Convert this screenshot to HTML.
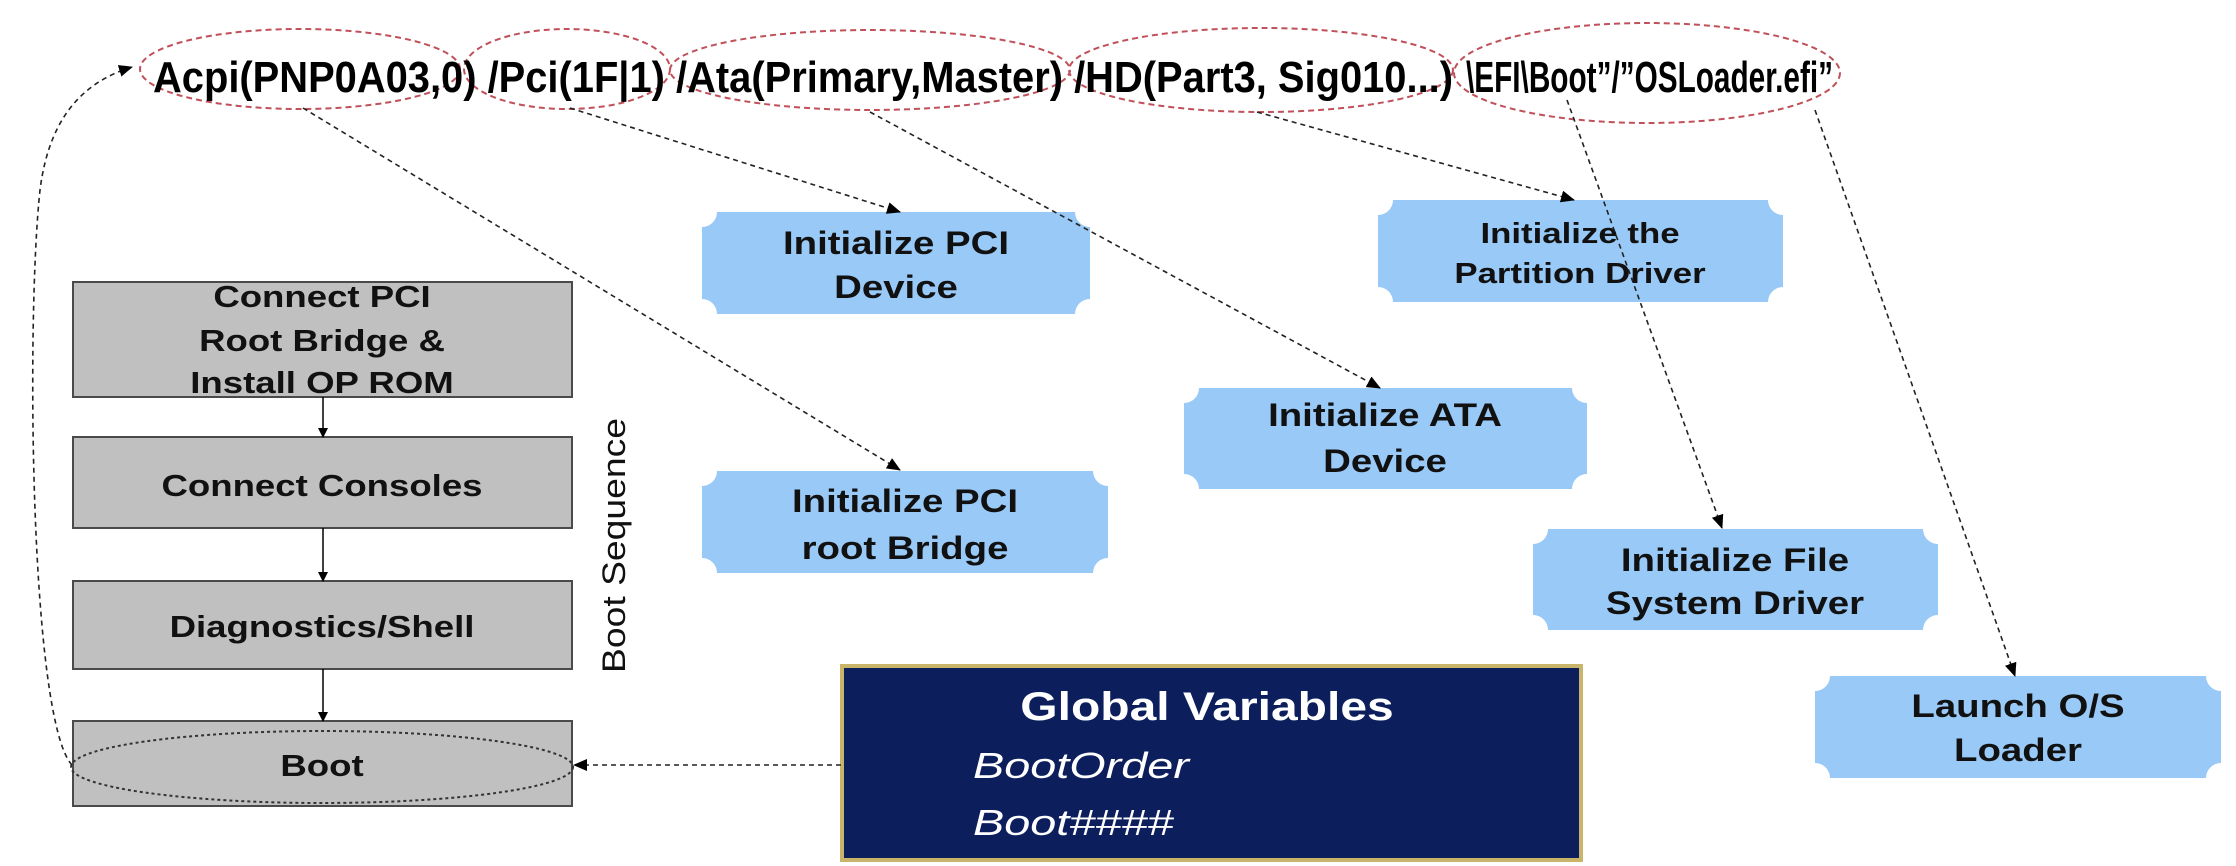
<!DOCTYPE html>
<html><head><meta charset="utf-8"><style>
html,body{margin:0;padding:0;background:#fff;}
svg{display:block;}
text{font-family:"Liberation Sans",Arial,sans-serif;}
</style></head><body>
<svg width="2236" height="866" viewBox="0 0 2236 866" xmlns="http://www.w3.org/2000/svg">
<defs>
<marker id="ah" markerWidth="10" markerHeight="10" refX="9" refY="5" orient="auto" markerUnits="userSpaceOnUse">
<path d="M0,0 L10,5 L0,10 z" fill="#000"/>
</marker>
<marker id="ah2" markerWidth="14" markerHeight="12" refX="13" refY="6" orient="auto" markerUnits="userSpaceOnUse">
<path d="M0,0 L14,6 L0,12 z" fill="#000"/>
</marker>
</defs>

<g fill="none" stroke="#c0505a" stroke-width="2" stroke-dasharray="6,4">
<ellipse cx="300" cy="69" rx="160" ry="40"/>
<ellipse cx="567" cy="69" rx="103" ry="40"/>
<ellipse cx="870" cy="70" rx="200" ry="40"/>
<ellipse cx="1261" cy="70" rx="192" ry="42"/>
<ellipse cx="1647" cy="73" rx="193" ry="50"/>
</g>

<text x="153" y="92" font-size="44" font-weight="bold" textLength="1300" lengthAdjust="spacingAndGlyphs">Acpi(PNP0A03,0) /Pci(1F|1) /Ata(Primary,Master) /HD(Part3, Sig010...)</text>
<text x="1466" y="92" font-size="44" font-weight="bold" textLength="367" lengthAdjust="spacingAndGlyphs">\EFI\Boot”/”OSLoader.efi”</text>

<g fill="#c0c0c0" stroke="#4a4a4a" stroke-width="2">
<rect x="73" y="282" width="499" height="115"/>
<rect x="73" y="437" width="499" height="91"/>
<rect x="73" y="581" width="499" height="88"/>
<rect x="73" y="721" width="499" height="85"/>
</g>
<g font-size="31" font-weight="bold" text-anchor="middle" fill="#111">
<text transform="translate(322,307) scale(1.18,1)">Connect PCI</text>
<text transform="translate(322,351) scale(1.18,1)">Root Bridge &amp;</text>
<text transform="translate(322,393) scale(1.18,1)">Install OP ROM</text>
<text transform="translate(322,496) scale(1.18,1)">Connect Consoles</text>
<text transform="translate(322,637) scale(1.18,1)">Diagnostics/Shell</text>
<text transform="translate(322,776) scale(1.18,1)">Boot</text>
</g>
<ellipse cx="322" cy="767" rx="251" ry="36" fill="none" stroke="#333" stroke-width="2" stroke-dasharray="3,3"/>
<g stroke="#000" stroke-width="1.5" marker-end="url(#ah)">
<line x1="323" y1="397" x2="323" y2="437"/>
<line x1="323" y1="528" x2="323" y2="581"/>
<line x1="323" y1="669" x2="323" y2="721"/>
</g>

<text transform="translate(625,673) rotate(-90)" font-size="32" textLength="255" lengthAdjust="spacingAndGlyphs" fill="#111">Boot Sequence</text>

<g fill="#99c9f7">
<path d="M717,212 H1075 A15,15 0 0 0 1090,227 V299 A15,15 0 0 0 1075,314 H717 A15,15 0 0 0 702,299 V227 A15,15 0 0 0 717,212 Z"/>
<path d="M717,471 H1093 A15,15 0 0 0 1108,486 V558 A15,15 0 0 0 1093,573 H717 A15,15 0 0 0 702,558 V486 A15,15 0 0 0 717,471 Z"/>
<path d="M1199,388 H1572 A15,15 0 0 0 1587,403 V474 A15,15 0 0 0 1572,489 H1199 A15,15 0 0 0 1184,474 V403 A15,15 0 0 0 1199,388 Z"/>
<path d="M1393,200 H1768 A15,15 0 0 0 1783,215 V287 A15,15 0 0 0 1768,302 H1393 A15,15 0 0 0 1378,287 V215 A15,15 0 0 0 1393,200 Z"/>
<path d="M1548,529 H1923 A15,15 0 0 0 1938,544 V615 A15,15 0 0 0 1923,630 H1548 A15,15 0 0 0 1533,615 V544 A15,15 0 0 0 1548,529 Z"/>
<path d="M1830,676 H2206 A15,15 0 0 0 2221,691 V763 A15,15 0 0 0 2206,778 H1830 A15,15 0 0 0 1815,763 V691 A15,15 0 0 0 1830,676 Z"/>
</g>
<g font-size="32" font-weight="bold" text-anchor="middle" fill="#111">
<text transform="translate(896,254) scale(1.2,1)">Initialize PCI</text>
<text transform="translate(896,298) scale(1.2,1)">Device</text>
<text transform="translate(905,512) scale(1.2,1)">Initialize PCI</text>
<text transform="translate(905,559) scale(1.2,1)">root Bridge</text>
<text transform="translate(1385,426) scale(1.2,1)">Initialize ATA</text>
<text transform="translate(1385,472) scale(1.2,1)">Device</text>
<text transform="translate(1735,571) scale(1.2,1)">Initialize File</text>
<text transform="translate(1735,614) scale(1.2,1)">System Driver</text>
<text transform="translate(2018,717) scale(1.2,1)">Launch O/S</text>
<text transform="translate(2018,761) scale(1.2,1)">Loader</text>
</g>
<g font-size="29" font-weight="bold" text-anchor="middle" fill="#111">
<text transform="translate(1580,243) scale(1.2,1)">Initialize the</text>
<text transform="translate(1580,283) scale(1.2,1)">Partition Driver</text>
</g>

<rect x="842" y="666" width="739" height="194" fill="#0c1f5c" stroke="#c8b56a" stroke-width="4"/>
<text transform="translate(1207,720) scale(1.2,1)" font-size="40" font-weight="bold" fill="#fff" text-anchor="middle">Global Variables</text>
<text transform="translate(973,778) scale(1.3,1)" font-size="36" font-style="italic" fill="#fff">BootOrder</text>
<text transform="translate(973,835) scale(1.3,1)" font-size="36" font-style="italic" fill="#fff">Boot####</text>

<g fill="none" stroke="#222" stroke-width="1.6" stroke-dasharray="5,4" marker-end="url(#ah2)">
<line x1="303" y1="108" x2="900" y2="470"/>
<line x1="570" y1="108" x2="900" y2="212"/>
<line x1="870" y1="112" x2="1380" y2="388"/>
<line x1="1257" y1="112" x2="1574" y2="200"/>
<line x1="1567" y1="100" x2="1722" y2="528"/>
<line x1="1815" y1="110" x2="2015" y2="676"/>
<line x1="841" y1="765" x2="574" y2="765"/>
<path d="M72,765 C30,720 26,320 40,190 C50,110 90,80 132,67"/>
</g>
</svg>
</body></html>
